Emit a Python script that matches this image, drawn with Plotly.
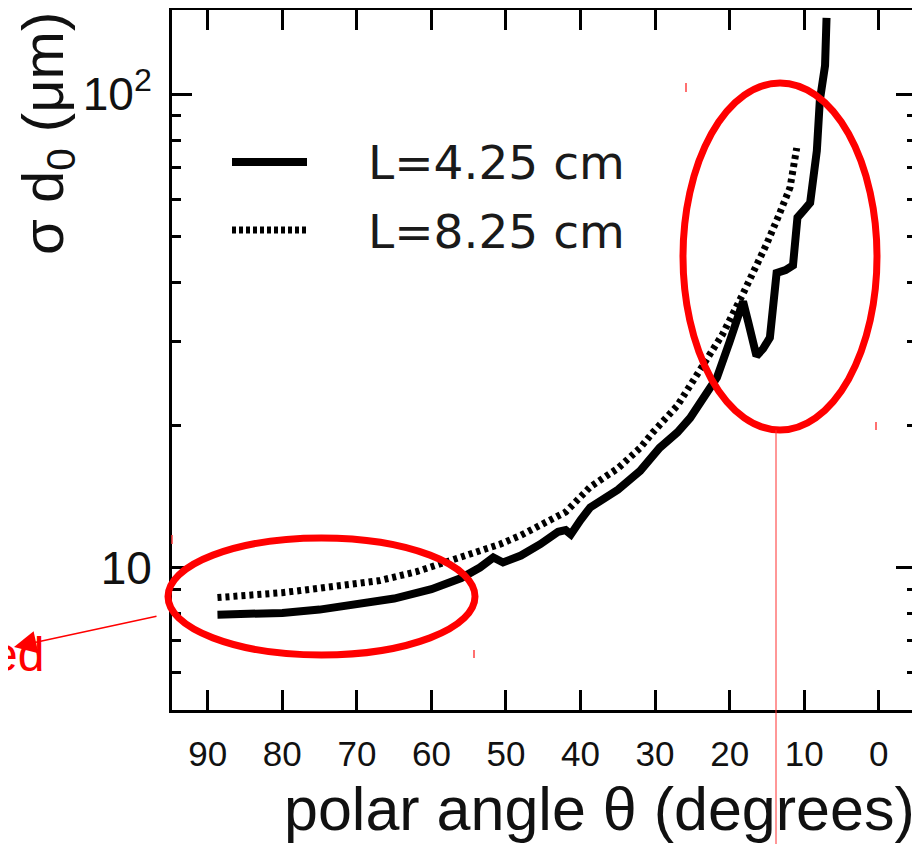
import plotly.graph_objects as go

# ---- data ----
angle_425 = [88.7, 85, 80, 75, 70, 65, 60, 56, 53.5, 51.7, 50.4, 48, 45.4, 43, 42, 41.3,
             40, 38.7, 35, 32, 29.4, 27, 25.3, 23.5, 21.7, 20, 18.2, 17.5, 16.4, 15.5,
             14.6, 13.7, 12.5, 11.5, 10.9, 10, 9.2, 8.3, 7.9, 7.2, 7.0]
sigma_425 = [7.95, 7.97, 8.02, 8.15, 8.35, 8.6, 9.0, 9.5, 10.0, 10.5, 10.25, 10.6, 11.2, 11.9, 12.0, 11.75,
             12.6, 13.4, 14.6, 16.0, 17.9, 19.3, 20.7, 23.0, 25.2, 30.0, 36.5, 33.0, 28.0, 29.0,
             30.6, 41.9, 42.5, 43.5, 54.9, 57.0, 59.0, 76.0, 97.0, 115.0, 145.0]

angle_825 = [88.7, 85, 80, 77.6, 72, 66.9, 62, 58.8, 55, 50.8, 48, 45.4, 42, 38.7, 35,
             32, 30.3, 27, 24, 21, 18.2, 16.5, 15, 13.5, 11.9, 11.0]
sigma_825 = [8.64, 8.7, 8.85, 8.94, 9.15, 9.39, 9.8, 10.2, 10.6, 11.2, 11.7, 12.3, 13.1, 14.8, 16.2,
             17.9, 19.3, 22.0, 26.0, 31.0, 37.9, 43.0, 48.4, 55.0, 63.5, 77.0]

series_names = ["L=4.25 cm", "L=8.25 cm"]
x_tick_vals = [90, 80, 70, 60, 50, 40, 30, 20, 10, 0]
y_major_vals = [10, 100]
y_major_text = ["10", "10<sup>2</sup>"]
y_minor_vals = [6, 7, 8, 9, 20, 30, 40, 50, 60, 70, 80, 90]

# ---- geometry: page pixels; the page body adds an 8px offset ----
OFF = 8
W, H = 920 - OFF, 844 - OFF
L = 172 - OFF            # plot left edge (page 172)
T = 10 - OFF             # plot top edge (page 10)
R = W - (916 - OFF)      # plot right edge (page 916)
B = H - (710 - OFF)      # plot bottom edge (page 710)
PW, PH = W - L - R, H - T - B


def px(x):
    return (x - OFF - L) / PW


def py(y):
    return (H - B - (y - OFF)) / PH


fig = go.Figure()
fig.add_trace(go.Scatter(x=angle_425, y=sigma_425, mode="lines", name=series_names[0],
                         line=dict(color="black", width=8), showlegend=False))
fig.add_trace(go.Scatter(x=angle_825, y=sigma_825, mode="lines", name=series_names[1],
                         line=dict(color="black", width=7, dash="4px,4px"), showlegend=False))

axis_font = "Liberation Sans, Arial, sans-serif"

fig.update_layout(
    width=W, height=H,
    margin=dict(l=L, r=R, t=T, b=B),
    paper_bgcolor="white", plot_bgcolor="white",
    font=dict(family=axis_font, color="black"),
    xaxis=dict(range=[94.8, -5.0], tickmode="array", tickvals=x_tick_vals,
               ticks="inside", ticklen=20, tickwidth=3, tickcolor="black",
               showline=True, linewidth=3, linecolor="black", mirror="ticks",
               showgrid=False, zeroline=False, automargin=False,
               tickfont=dict(size=35, family=axis_font, color="#111"),
               ticklabelstandoff=11),
    yaxis=dict(type="log", range=[0.699, 2.178], tickmode="array",
               tickvals=y_major_vals, ticktext=y_major_text,
               ticks="inside", ticklen=20, tickwidth=3, tickcolor="black",
               showline=True, linewidth=3, linecolor="black", mirror="ticks",
               showgrid=False, zeroline=False, automargin=False,
               tickfont=dict(size=46, family=axis_font, color="#111"),
               ticklabelstandoff=8,
               minor=dict(tickmode="array", tickvals=y_minor_vals, ticks="inside",
                          ticklen=9, tickwidth=3, tickcolor="black", showgrid=False)),
)

shapes = []
# legend swatches
shapes.append(dict(type="line", xref="paper", yref="paper", x0=px(232), x1=px(307),
                   y0=py(162), y1=py(162), line=dict(color="black", width=8)))
shapes.append(dict(type="line", xref="paper", yref="paper", x0=px(232), x1=px(306),
                   y0=py(230), y1=py(230), line=dict(color="black", width=7, dash="4px,3px")))
# red highlight ellipses
shapes.append(dict(type="circle", xref="paper", yref="paper", x0=px(168), x1=px(475),
                   y0=py(655), y1=py(538), line=dict(color="#ff0000", width=7)))
shapes.append(dict(type="circle", xref="paper", yref="paper", x0=px(683), x1=px(877),
                   y0=py(430), y1=py(83), line=dict(color="#ff0000", width=7)))
# thin red vertical line
shapes.append(dict(type="line", xref="paper", yref="paper", x0=px(776), x1=px(776),
                   y0=py(430), y1=py(844), line=dict(color="#ff3030", width=1)))
# small red bounding-box markers
for (mx, my0, my1) in [(686, 83, 92), (876, 422, 430), (474, 650, 658), (172, 535, 544)]:
    shapes.append(dict(type="line", xref="paper", yref="paper", x0=px(mx), x1=px(mx),
                       y0=py(my1), y1=py(my0), line=dict(color="#ff4040", width=1.5)))
fig.update_layout(shapes=shapes)

ann = []
ann.append(dict(text=series_names[0], xref="paper", yref="paper", x=px(366), y=py(163),
                xanchor="left", yanchor="middle", showarrow=False,
                font=dict(family="DejaVu Sans", size=47, color="#1a1a1a")))
ann.append(dict(text=series_names[1], xref="paper", yref="paper", x=px(366), y=py(231),
                xanchor="left", yanchor="middle", showarrow=False,
                font=dict(family="DejaVu Sans", size=47, color="#1a1a1a")))
ann.append(dict(text="polar angle θ (degrees)", xref="paper", yref="paper", x=px(917), y=py(809),
                xanchor="right", yanchor="middle", showarrow=False,
                font=dict(family=axis_font, size=61, color="#111")))
ann.append(dict(text="σ d<sub>0</sub> (μm)", xref="paper", yref="paper", x=px(47), y=py(134),
                xanchor="center", yanchor="middle", textangle=-90, showarrow=False,
                font=dict(family=axis_font, size=58, color="#111")))
# red arrow + clipped label
ann.append(dict(text="", xref="paper", yref="paper", x=px(14), y=py(647),
                ax=158 - 14, ay=616 - 647, axref="pixel", ayref="pixel",
                showarrow=True, arrowhead=2, arrowsize=3, arrowwidth=1.5, arrowcolor="#ff0000"))
ann.append(dict(text="ed", xref="paper", yref="paper", x=px(46), y=py(654),
                xanchor="right", yanchor="middle", showarrow=False,
                font=dict(family=axis_font, size=48, color="#ff0000")))
fig.update_layout(annotations=ann)

fig.write_html("out.html")
